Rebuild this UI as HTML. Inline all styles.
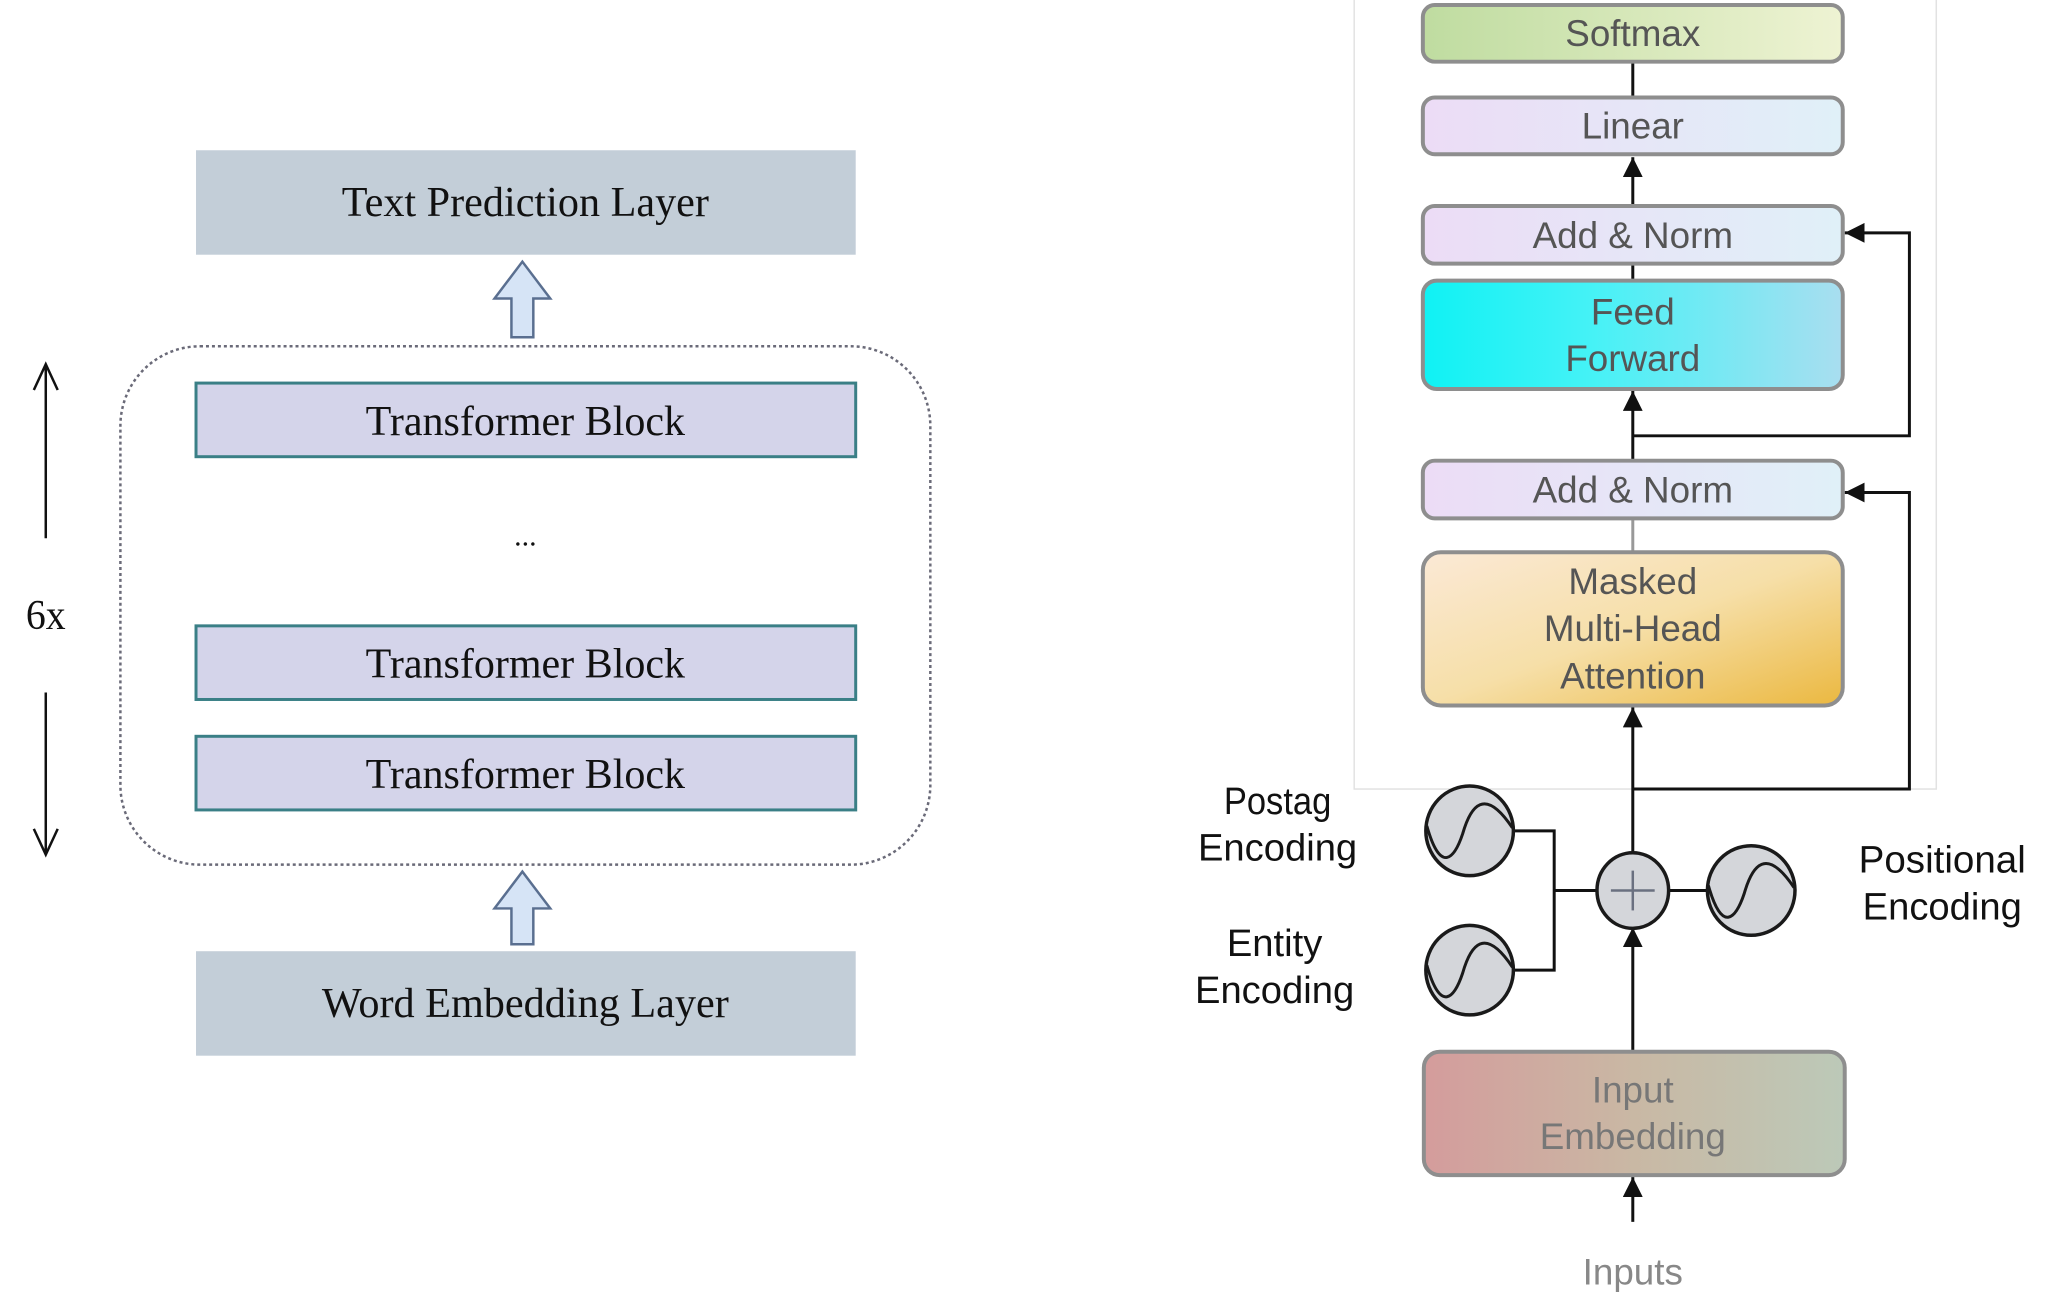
<!DOCTYPE html>
<html><head><meta charset="utf-8"><style>html,body{margin:0;padding:0;background:#fff}svg{display:block}</style></head>
<body>
<svg width="2048" height="1301" viewBox="0 0 2048 1301" xmlns="http://www.w3.org/2000/svg">
<defs>
<linearGradient id="gSoft" x1="0" x2="1"><stop offset="0" stop-color="#bfdca0"/><stop offset="1" stop-color="#eef3d3"/></linearGradient>
<linearGradient id="gLin" x1="0" x2="1"><stop offset="0" stop-color="#ecdcf6"/><stop offset="1" stop-color="#e0f0f8"/></linearGradient>
<linearGradient id="gFF" x1="0" x2="1"><stop offset="0" stop-color="#0ff2f4"/><stop offset="0.4" stop-color="#45f2f6"/><stop offset="1" stop-color="#a9def0"/></linearGradient>
<linearGradient id="gMask" x1="0" y1="0" x2="1" y2="1"><stop offset="0" stop-color="#fbe9d6"/><stop offset="0.5" stop-color="#f6dfa8"/><stop offset="1" stop-color="#ebb840"/></linearGradient>
<linearGradient id="gIn" x1="0" x2="1"><stop offset="0" stop-color="#d49c9c"/><stop offset="0.5" stop-color="#c9b8a4"/><stop offset="1" stop-color="#bcc9b8"/></linearGradient>
<marker id="ab" viewBox="0 0 10 10" refX="10" refY="5" markerWidth="20" markerHeight="20" markerUnits="userSpaceOnUse" orient="auto"><path d="M0,0 L10,5 L0,10 z" fill="#111"/></marker>
</defs>
<g transform="scale(0.995)">
<!-- LEFT -->
<g font-family="Liberation Serif, serif" font-size="42" fill="#111" text-anchor="middle">
<rect x="197" y="151" width="663" height="105" fill="#c3ced8"/>
<text x="528" y="217" textLength="369" lengthAdjust="spacingAndGlyphs">Text Prediction Layer</text>
<path d="M514,339 L514,300 L497,300 L525,263 L553,300 L536,300 L536,339 Z" fill="#d6e4f6" stroke="#5a6f90" stroke-width="2.5"/>
<rect x="121" y="348" width="814" height="521" rx="80" fill="none" stroke="#6a6a78" stroke-width="2.5" stroke-dasharray="3,3"/>
<rect x="197" y="385" width="663" height="74" fill="#d4d4ea" stroke="#3a7f86" stroke-width="3"/>
<text x="528" y="437" textLength="321" lengthAdjust="spacingAndGlyphs">Transformer Block</text>
<text x="528" y="548" font-size="30">...</text>
<rect x="197" y="629" width="663" height="74" fill="#d4d4ea" stroke="#3a7f86" stroke-width="3"/>
<text x="528" y="681" textLength="321" lengthAdjust="spacingAndGlyphs">Transformer Block</text>
<rect x="197" y="740" width="663" height="74" fill="#d4d4ea" stroke="#3a7f86" stroke-width="3"/>
<text x="528" y="792" textLength="321" lengthAdjust="spacingAndGlyphs">Transformer Block</text>
<path d="M514,949 L514,913 L497,913 L525,876 L553,913 L536,913 L536,949 Z" fill="#d6e4f6" stroke="#5a6f90" stroke-width="2.5"/>
<rect x="197" y="956" width="663" height="105" fill="#c3ced8"/>
<text x="528" y="1022" textLength="409" lengthAdjust="spacingAndGlyphs">Word Embedding Layer</text>
<text x="46" y="632" textLength="40" lengthAdjust="spacingAndGlyphs">6x</text>
<line x1="46" y1="541" x2="46" y2="368" stroke="#111" stroke-width="2.5"/>
<path d="M34,392 L46,366 L58,392" fill="none" stroke="#111" stroke-width="2.5"/>
<line x1="46" y1="696" x2="46" y2="857" stroke="#111" stroke-width="2.5"/>
<path d="M34,833 L46,859 L58,833" fill="none" stroke="#111" stroke-width="2.5"/>
</g>

<!-- RIGHT -->
<rect x="1361" y="-2" width="585" height="795" fill="#fff" stroke="#e2e2e2" stroke-width="1.5"/>
<g stroke="#111" stroke-width="3" fill="none">
<line x1="1641" y1="62" x2="1641" y2="98"/>
<line x1="1641" y1="207" x2="1641" y2="158" marker-end="url(#ab)"/>
<line x1="1641" y1="265" x2="1641" y2="282"/>
<line x1="1641" y1="463" x2="1641" y2="393" marker-end="url(#ab)"/>
<polyline points="1641,438 1919,438 1919,234 1854,234" marker-end="url(#ab)"/>
<line x1="1641" y1="521" x2="1641" y2="555" stroke="#999"/>
<line x1="1641" y1="858" x2="1641" y2="711" marker-end="url(#ab)"/>
<polyline points="1641,793 1919,793 1919,495 1854,495" marker-end="url(#ab)"/>
<line x1="1641" y1="1057" x2="1641" y2="932" marker-end="url(#ab)"/>
<line x1="1641" y1="1228" x2="1641" y2="1183" marker-end="url(#ab)"/>
<polyline points="1520,835 1562,835 1562,975 1520,975"/>
<line x1="1562" y1="895" x2="1605" y2="895"/>
<line x1="1677" y1="895" x2="1716" y2="895"/>
</g>
<g stroke="#8e8e8e" stroke-width="4">
<rect x="1430" y="5" width="422" height="57" rx="12" fill="url(#gSoft)"/>
<rect x="1430" y="98" width="422" height="57" rx="12" fill="url(#gLin)"/>
<rect x="1430" y="207" width="422" height="58" rx="12" fill="url(#gLin)"/>
<rect x="1430" y="282" width="422" height="109" rx="14" fill="url(#gFF)"/>
<rect x="1430" y="463" width="422" height="58" rx="12" fill="url(#gLin)"/>
<rect x="1430" y="555" width="422" height="154" rx="18" fill="url(#gMask)"/>
<rect x="1431" y="1057" width="423" height="124" rx="16" fill="url(#gIn)"/>
</g>
<g font-family="Liberation Sans, sans-serif" font-size="37" text-anchor="middle" fill="#555">
<text x="1641" y="46">Softmax</text>
<text x="1641" y="139">Linear</text>
<text x="1641" y="249">Add &amp; Norm</text>
<text x="1641" y="326">Feed</text>
<text x="1641" y="373">Forward</text>
<text x="1641" y="505">Add &amp; Norm</text>
<text x="1641" y="597">Masked</text>
<text x="1641" y="644">Multi-Head</text>
<text x="1641" y="692">Attention</text>
<text x="1641" y="1108" fill="#777">Input</text>
<text x="1641" y="1155" fill="#777">Embedding</text>
<text x="1641" y="1291" fill="#888">Inputs</text>
</g>
<g stroke="#1a1a1a" stroke-width="3.5" fill="#d4d6da">
<ellipse cx="1641" cy="895" rx="36" ry="38"/>
<ellipse cx="1477" cy="835" rx="44" ry="45"/>
<ellipse cx="1477" cy="975" rx="44" ry="45"/>
<ellipse cx="1760" cy="895" rx="44" ry="45"/>
</g>
<g stroke="#6a7080" stroke-width="2.5"><line x1="1641" y1="875" x2="1641" y2="915"/><line x1="1619" y1="895" x2="1663" y2="895"/></g>
<g fill="none" stroke="#1a1a1a" stroke-width="3">
<path d="M1434,830 C1448,880 1462,862 1470,838 C1478,810 1492,790 1520,832"/>
<path d="M1434,970 C1448,1020 1462,1002 1470,978 C1478,950 1492,930 1520,972"/>
<path d="M1717,890 C1731,940 1745,922 1753,898 C1761,870 1775,850 1803,892"/>
</g>
<g font-family="Liberation Sans, sans-serif" font-size="38" text-anchor="middle" fill="#111">
<text x="1284" y="818" textLength="108" lengthAdjust="spacingAndGlyphs">Postag</text>
<text x="1284" y="865" textLength="160" lengthAdjust="spacingAndGlyphs">Encoding</text>
<text x="1281" y="961" textLength="96" lengthAdjust="spacingAndGlyphs">Entity</text>
<text x="1281" y="1008" textLength="160" lengthAdjust="spacingAndGlyphs">Encoding</text>
<text x="1952" y="877" textLength="168" lengthAdjust="spacingAndGlyphs">Positional</text>
<text x="1952" y="924" textLength="160" lengthAdjust="spacingAndGlyphs">Encoding</text>
</g>
</g>
</svg>
</body></html>
